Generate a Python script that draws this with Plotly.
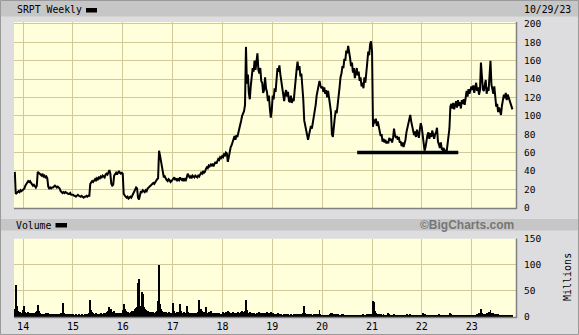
import pandas as pd
import plotly.graph_objects as go

# ---------------- data (weekly) ----------------
# weekly close, USD
p2013 = [39, 15, 16, 17, 18, 17, 19, 18, 19]
p2014 = [19, 21, 24, 26, 28, 29, 28, 29, 27, 25, 24, 25, 23, 22, 24, 39, 38,
         37, 36, 35, 37, 34, 35, 33, 34, 32, 23, 21, 22, 21, 22, 22, 23, 24, 23,
         22, 23, 22, 21, 18, 17, 16, 17, 16, 17, 16, 16, 15, 15, 16, 14, 14]
p2015 = [14, 13, 13, 12, 13, 14, 13, 12, 12, 13, 12, 11, 12, 12, 13, 12, 13,
         13, 26, 27, 29, 28, 30, 31, 29, 32, 31, 33, 32, 34, 33, 35, 34, 33, 36,
         37, 36, 39, 41, 37, 26, 24, 25, 35, 37, 38, 36, 39, 40, 38, 37, 38]
p2016 = [37, 15, 13, 12, 11, 12, 10, 11, 12, 11, 13, 15, 17, 19, 22, 21, 11,
         9, 16, 18, 17, 19, 18, 17, 19, 18, 21, 22, 23, 24, 25, 25, 27, 26, 28,
         30, 31, 32, 62, 57, 50, 42, 37, 33, 34, 31, 30, 29, 31, 30, 28, 29, 30]
p2017 = [31, 33, 30, 32, 29, 31, 30, 33, 31, 30, 32, 29, 31, 30, 33, 37, 35,
         33, 34, 32, 35, 34, 33, 35, 34, 33, 35, 34, 36, 38, 37, 40, 38, 39, 42,
         44, 43, 46, 45, 47, 46, 48, 45, 49, 50, 48, 51, 53, 52, 55, 54, 56]
p2018 = [55, 58, 57, 60, 59, 50, 55, 62, 66, 68, 72, 75, 78, 74, 79, 77, 81,
         84, 88, 95, 100, 103, 105, 112, 175, 135, 145, 125, 118, 132, 142,
         152, 148, 160, 150, 163, 168, 150, 146, 152, 138, 136, 125, 128, 142,
         130, 126, 116, 122, 108, 98, 106]
p2019 = [122, 118, 130, 126, 142, 152, 148, 155, 145, 138, 128, 124, 116, 124,
         128, 121, 126, 116, 115, 122, 114, 119, 116, 128, 142, 150, 159, 150,
         154, 143, 146, 135, 118, 95, 90, 84, 80, 74, 79, 83, 89, 86, 92, 96,
         102, 112, 122, 129, 135, 138, 133, 130]
p2020 = [132, 126, 131, 124, 128, 120, 127, 116, 112, 104, 80, 77, 93, 98,
         106, 103, 112, 126, 131, 142, 146, 154, 152, 162, 160, 171, 168, 176,
         166, 163, 154, 158, 147, 152, 141, 146, 152, 144, 148, 138, 142, 132,
         136, 130, 142, 136, 152, 158, 170, 166, 178, 181]
p2021 = [170, 88, 96, 92, 97, 89, 94, 87, 85, 78, 80, 72, 75, 71, 74, 70, 72,
         70, 76, 73, 75, 71, 76, 86, 79, 76, 78, 74, 77, 71, 72, 67, 71, 66, 70,
         74, 82, 86, 93, 97, 101, 94, 88, 84, 79, 83, 77, 85, 79, 76, 85, 92, 88]
p2022 = [80, 72, 62, 66, 75, 79, 82, 75, 81, 77, 84, 79, 75, 80, 82, 87, 72,
         69, 65, 71, 64, 63, 65, 61, 63, 60, 67, 77, 86, 110, 113, 108, 114, 107,
         111, 116, 109, 117, 111, 115, 108, 117, 113, 118, 112, 122, 127, 121,
         129, 124, 127, 132]
p2023 = [128, 133, 125, 131, 136, 127, 131, 123, 128, 158, 134, 129, 127, 133,
         139, 124, 131, 127, 141, 160, 134, 129, 124, 132, 116, 110, 113, 104,
         109, 104, 101, 111, 118, 123, 119, 125, 117, 123, 120, 117, 114, 112, 107]

# weekly volume, millions of shares
v2013 = [15, 62, 22, 12, 9, 10, 8, 7, 9]
v2014 = [14, 22, 10, 9, 8, 11, 9, 7, 8, 7, 9, 6, 8, 10, 12, 24, 12, 8, 7, 6,
         7, 6, 7, 6, 8, 5, 9, 7, 6, 5, 6, 5, 6, 5, 7, 6, 5, 6, 7, 9, 8, 28, 9,
         7, 6, 7, 5, 6, 5, 6, 7, 5]
v2015 = [6, 5, 5, 6, 5, 4, 6, 5, 5, 6, 4, 5, 6, 5, 6, 7, 6, 8, 33, 14, 10, 8,
         7, 6, 8, 7, 6, 7, 6, 8, 7, 6, 9, 8, 7, 8, 10, 12, 19, 11, 15, 10, 9, 12,
         8, 7, 9, 8, 7, 8, 6, 9]
v2016 = [14, 26, 15, 12, 10, 9, 11, 8, 9, 10, 12, 11, 13, 15, 18, 20, 65, 73,
         22, 18, 48, 45, 20, 16, 14, 12, 12, 10, 11, 9, 10, 9, 10, 8, 9, 10, 12,
         31, 100, 25, 15, 12, 10, 11, 9, 10, 8, 9, 11, 8, 9, 7, 8]
v2017 = [28, 12, 9, 8, 10, 9, 11, 26, 12, 9, 8, 10, 7, 8, 22, 10, 9, 8, 7, 9,
         8, 7, 8, 9, 7, 8, 10, 33, 14, 16, 12, 10, 11, 9, 19, 9, 8, 10, 9, 12,
         8, 7, 8, 9, 7, 8, 9, 7, 8, 7, 6, 7]
v2018 = [10, 9, 8, 11, 9, 12, 10, 8, 9, 8, 10, 9, 8, 7, 8, 9, 10, 9, 8, 10,
         12, 9, 10, 12, 33, 14, 9, 8, 10, 8, 7, 8, 9, 7, 6, 7, 9, 8, 10, 8, 9,
         7, 8, 9, 7, 8, 10, 9, 8, 9, 11, 8]
v2019 = [8, 7, 6, 6, 6, 7, 8, 6, 6, 7, 5, 5, 6, 5, 6, 5, 6, 5, 5, 6, 5, 5, 6,
         5, 6, 7, 6, 6, 5, 6, 5, 6, 8, 22, 9, 7, 6, 5, 6, 5, 6, 5, 5, 6, 5, 6,
         5, 6, 7, 14, 6, 5]
v2020 = [5, 4, 5, 4, 5, 4, 5, 5, 6, 8, 9, 7, 6, 5, 6, 5, 6, 5, 4, 5, 6, 5, 6,
         5, 4, 5, 5, 4, 5, 4, 5, 5, 5, 4, 5, 5, 4, 5, 5, 4, 5, 4, 5, 6, 5, 4, 5,
         6, 5, 6, 5, 7]
v2021 = [7, 31, 30, 12, 9, 7, 6, 6, 5, 6, 5, 5, 6, 5, 4, 5, 5, 9, 6, 5, 4, 5,
         5, 6, 4, 5, 4, 5, 4, 5, 5, 4, 5, 4, 5, 4, 5, 6, 5, 5, 6, 5, 4, 5, 4, 5,
         4, 5, 5, 4, 5, 4, 4]
v2022 = [8, 6, 7, 5, 5, 4, 5, 4, 5, 5, 4, 5, 4, 5, 5, 4, 5, 6, 5, 4, 5, 4, 5,
         4, 5, 4, 4, 5, 5, 8, 6, 5, 4, 5, 4, 5, 5, 4, 4, 5, 4, 4, 5, 4, 5, 5, 4,
         4, 5, 5, 4, 4]
v2023 = [5, 4, 5, 4, 5, 6, 7, 8, 7, 16, 9, 7, 6, 7, 6, 8, 9, 10, 11, 14, 9, 7,
         8, 6, 7, 6, 5, 6, 5, 4, 5, 5, 4, 5, 4, 5, 5, 4, 5, 4, 5, 4, 5]

# first Friday of each yearly block
week_starts = ["2013-11-01", "2014-01-03", "2015-01-02", "2016-01-01",
               "2017-01-06", "2018-01-05", "2019-01-04", "2020-01-03",
               "2021-01-01", "2022-01-07", "2023-01-06"]
price_blocks = [p2013, p2014, p2015, p2016, p2017, p2018, p2019, p2020,
                p2021, p2022, p2023]
volume_blocks = [v2013, v2014, v2015, v2016, v2017, v2018, v2019, v2020,
                 v2021, v2022, v2023]

year_ticks = ["2014-01-01", "2015-01-01", "2016-01-01", "2017-01-01",
              "2018-01-01", "2019-01-01", "2020-01-01", "2021-01-01",
              "2022-01-01", "2023-01-01"]
year_labels = ["14", "15", "16", "17", "18", "19", "20", "21", "22", "23"]
price_ticks = [0, 20, 40, 60, 80, 100, 120, 140, 160, 180, 200]
volume_ticks = [0, 50, 100, 150]

support_level = 60
support_start, support_end = "2020-09-14", "2022-09-25"

# ---------------- build series ----------------
dates, prices, vols = [], [], []
for start, pb, vb in zip(week_starts, price_blocks, volume_blocks):
    d = pd.date_range(start, periods=len(pb), freq="7D")
    dates.extend(list(d))
    prices.extend(pb)
    vols.extend(vb[:len(pb)] + [vb[-1]] * max(0, len(pb) - len(vb)))

# ---------------- layout geometry ----------------
W, H = 579, 335
L, R, T, B = 14, 63, 22, 18
PW, PH = W - L - R, H - T - B


def fx(px):
    return (px - L) / PW


def fy(py):
    return (H - B - py) / PH


MONO = "DejaVu Sans Mono"
GRID = "#cfca98"
PLOT_BG = "#ffffdc"
PAPER_BG = "#dddcde"
BAND = "#c6c6c6"

fig = go.Figure()

fig.add_trace(go.Scatter(
    x=dates, y=prices, mode="lines",
    line=dict(color="black", width=2),
    xaxis="x", yaxis="y", showlegend=False, hoverinfo="skip"))

fig.add_trace(go.Bar(
    x=dates, y=vols, marker=dict(color="black", line=dict(width=0)),
    xaxis="x2", yaxis="y2", showlegend=False, hoverinfo="skip"))

xrange = ["2013-10-26", "2023-11-22"]
common_x = dict(type="date", range=xrange, tickvals=year_ticks,
                ticktext=year_labels, showgrid=True, gridcolor=GRID,
                gridwidth=1, zeroline=False, showline=False, ticks="",
                fixedrange=True, automargin=False)

fig.update_layout(
    template="none",
    width=W, height=H,
    margin=dict(l=L, r=R, t=T, b=B, pad=0, autoexpand=False),
    paper_bgcolor=PAPER_BG, plot_bgcolor=PLOT_BG,
    bargap=0, showlegend=False,
    font=dict(family=MONO, size=10, color="black"),
    xaxis=dict(domain=[0, 1], anchor="y", showticklabels=False, **common_x),
    xaxis2=dict(domain=[0, 1], anchor="y2", matches="x", showticklabels=True,
                tickfont=dict(family=MONO, size=10), ticklabelstandoff=2,
                **common_x),
    yaxis=dict(domain=[fy(208), 1], range=[-0.3, 202.1], side="right",
               tickvals=price_ticks, showgrid=True, gridcolor=GRID,
               zeroline=False, showline=False, ticks="", automargin=False,
               ticklabelstandoff=7, tickfont=dict(family=MONO, size=9.5),
               fixedrange=True),
    yaxis2=dict(domain=[0, fy(238.7)], range=[0, 150], side="right",
                tickvals=volume_ticks, showgrid=True, gridcolor=GRID,
                zeroline=False, showline=False, ticks="", automargin=False,
                ticklabelstandoff=7, tickfont=dict(family=MONO, size=9.5),
                fixedrange=True),
)

shapes = []
# header bands
shapes.append(dict(type="rect", xref="paper", yref="paper", layer="below",
                   x0=fx(0), x1=fx(W), y0=fy(16.5), y1=fy(0),
                   fillcolor=BAND, line=dict(width=0)))
shapes.append(dict(type="rect", xref="paper", yref="paper", layer="below",
                   x0=fx(0), x1=fx(W), y0=fy(230.5), y1=fy(219),
                   fillcolor=BAND, line=dict(width=0)))
# legend swatches
shapes.append(dict(type="rect", xref="paper", yref="paper",
                   x0=fx(86), x1=fx(97), y0=fy(12.5), y1=fy(8),
                   fillcolor="black", line=dict(width=0)))
shapes.append(dict(type="rect", xref="paper", yref="paper",
                   x0=fx(55.5), x1=fx(67), y0=fy(227.5), y1=fy(223),
                   fillcolor="black", line=dict(width=0)))
# panel shadow borders (bottom and right)
for top, bot in [(22, 208), (238.7, 317)]:
    shapes.append(dict(type="line", xref="paper", yref="paper",
                       x0=fx(L), x1=fx(516.5), y0=fy(bot + 0.5), y1=fy(bot + 0.5),
                       line=dict(color="#808080", width=1.5)))
    shapes.append(dict(type="line", xref="paper", yref="paper",
                       x0=fx(516.5), x1=fx(516.5), y0=fy(bot + 1), y1=fy(top),
                       line=dict(color="#808080", width=1.5)))
# outer frame
shapes.append(dict(type="rect", xref="paper", yref="paper",
                   x0=fx(0.5), x1=fx(W - 0.5), y0=fy(H - 0.5), y1=fy(0.5),
                   line=dict(color="#9a9a9a", width=1)))
# support line drawn on the price chart
shapes.append(dict(type="line", xref="x", yref="y",
                   x0=support_start, x1=support_end,
                   y0=support_level, y1=support_level,
                   line=dict(color="black", width=3.5)))
fig.update_layout(shapes=shapes)

annotations = [
    dict(text="SRPT Weekly", xref="paper", yref="paper", x=fx(14.5), y=fy(9.5),
         xanchor="left", yanchor="middle", showarrow=False,
         font=dict(family=MONO, size=9.8, color="black")),
    dict(text="10/29/23", xref="paper", yref="paper", x=fx(573), y=fy(9.5),
         xanchor="right", yanchor="middle", showarrow=False,
         font=dict(family=MONO, size=9.8, color="black")),
    dict(text="Volume", xref="paper", yref="paper", x=fx(14), y=fy(225),
         xanchor="left", yanchor="middle", showarrow=False,
         font=dict(family=MONO, size=9.8, color="black")),
    dict(text="<b>©BigCharts.com</b>", xref="paper", yref="paper", x=fx(516),
         y=fy(225), xanchor="right", yanchor="middle", showarrow=False,
         font=dict(family="Liberation Sans", size=12, color="#767676")),
    dict(text="Millions", xref="paper", yref="paper", x=fx(567), y=fy(277),
         xanchor="center", yanchor="middle", showarrow=False, textangle=-90,
         font=dict(family=MONO, size=10, color="black")),
]
fig.update_layout(annotations=annotations)

fig.write_html("out.html")
